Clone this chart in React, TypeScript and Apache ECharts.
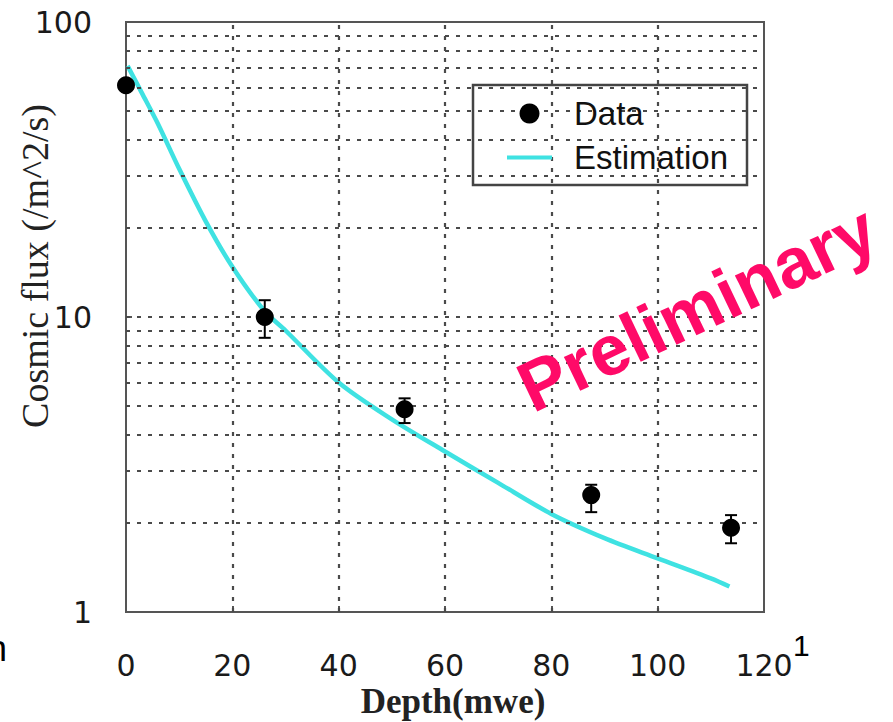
import React, { useEffect, useRef } from "react";
import * as echarts from "echarts";

// Measured data points (depth in mwe, cosmic flux)
const depthData = [0, 26.1, 52.4, 87.5, 113.8];
const fluxData = [61, 10.0, 4.87, 2.49, 1.93];
const fluxLow = [null, 8.5, 4.37, 2.18, 1.71];
const fluxHigh = [null, 11.4, 5.3, 2.7, 2.13];

// Estimation curve
const estDepth = [0.3, 3, 6, 10, 15, 20, 26, 30, 40, 50, 60, 70, 80, 90, 100, 110, 113.5];
const estFlux = [71, 57.4, 45.2, 31.8, 21.1, 14.8, 10.5, 9.0, 6.0, 4.5, 3.5, 2.74, 2.15, 1.78, 1.52, 1.3, 1.22];

// Grid lines
const yGridValues = [2, 3, 4, 5, 6, 7, 8, 9, 10, 20, 30, 40, 50, 60, 70, 80, 90];
const xGridValues = [20, 40, 60, 80, 100];

const xTicks = { min: 0, max: 120, interval: 20 };
const yTicks = { min: 1, max: 100 };

export default function App() {
  const ref = useRef<HTMLDivElement>(null);

  useEffect(() => {
    if (!ref.current) return;
    const chart = echarts.init(ref.current, null, { renderer: "svg" });

    const gridLineStyle = { type: [4, 7] as any, color: "#4a4a4a", width: 2.2 };
    const errData = depthData
      .map((d, i) => [d, fluxLow[i], fluxHigh[i]])
      .filter((r) => r[1] != null);

    const option: any = {
      animation: false,
      backgroundColor: "#ffffff",
      grid: {
        left: 126,
        right: 129,
        top: 22,
        bottom: 110,
        show: true,
        borderColor: "#555",
        borderWidth: 2,
        backgroundColor: "transparent",
      },
      xAxis: {
        type: "value",
        min: xTicks.min,
        max: xTicks.max,
        interval: xTicks.interval,
        axisLine: { show: true, lineStyle: { color: "#555", width: 2 } },
        axisTick: { show: true, inside: true, length: 6, lineStyle: { color: "#555", width: 2 } },
        splitLine: { show: false },
        axisLabel: {
          margin: 38,
          fontSize: 30,
          fontFamily: "DejaVu Sans",
          color: "#1a1a1a",
        },
      },
      yAxis: {
        type: "log",
        logBase: 10,
        min: yTicks.min,
        max: yTicks.max,
        axisLine: { show: true, lineStyle: { color: "#555", width: 2 } },
        axisTick: { show: true, inside: true, length: 6, lineStyle: { color: "#555", width: 2 } },
        splitLine: { show: false },
        axisLabel: {
          margin: 34,
          fontSize: 30,
          fontFamily: "DejaVu Sans",
          color: "#1a1a1a",
        },
      },
      legend: {
        orient: "vertical",
        left: 502,
        top: 92,
        itemWidth: 45,
        itemHeight: 20,
        itemGap: 11,
        data: [
          { name: "Data", icon: "circle" },
          { name: "Estimation", icon: "path://M0 0 H45 V4 H0 Z" },
        ],
        textStyle: {
          fontSize: 33,
          fontFamily: "Liberation Sans, Arial, sans-serif",
          color: "#111",
          padding: [0, 0, 0, 17],
        },
        z: 10,
      },
      graphic: [
        {
          type: "rect",
          z: 5,
          shape: { x: 473, y: 85, width: 274, height: 100 },
          style: { fill: "#ffffff", stroke: "#444", lineWidth: 2.5 },
        },
        {
          type: "text",
          x: 35,
          y: 266,
          rotation: Math.PI / 2,
          style: {
            text: "Cosmic flux (/m^2/s)",
            fontSize: 38,
            fontFamily: "Liberation Serif, serif",
            fill: "#222",
            align: "center",
            verticalAlign: "middle",
          },
        },
        {
          type: "text",
          x: 453,
          y: 701,
          style: {
            text: "Depth(mwe)",
            fontSize: 35,
            fontWeight: "bold",
            fontFamily: "Liberation Serif, serif",
            fill: "#222",
            align: "center",
            verticalAlign: "middle",
          },
        },
        {
          type: "text",
          x: 697,
          y: 308,
          z: 20,
          rotation: (25.5 * Math.PI) / 180,
          style: {
            text: "Preliminary",
            fontSize: 71,
            fontWeight: "bold",
            fontFamily: "Liberation Sans, Arial, sans-serif",
            fill: "#ff0a68",
            align: "center",
            verticalAlign: "middle",
          },
        },
        {
          type: "text",
          x: -13,
          y: 648,
          style: {
            text: "n",
            fontSize: 36,
            fontFamily: "Liberation Sans, sans-serif",
            fill: "#000",
            align: "left",
            verticalAlign: "middle",
          },
        },
        {
          type: "text",
          x: 793,
          y: 645,
          style: {
            text: "1",
            fontSize: 30,
            fontFamily: "Liberation Sans, sans-serif",
            fill: "#000",
            align: "left",
            verticalAlign: "middle",
          },
        },
      ],
      series: [
        {
          name: "gridlines",
          type: "line",
          data: [],
          z: 1,
          silent: true,
          markLine: {
            silent: true,
            symbol: ["none", "none"],
            label: { show: false },
            lineStyle: gridLineStyle,
            data: [
              ...yGridValues.map((v) => ({ yAxis: v })),
              ...xGridValues.map((v) => ({ xAxis: v })),
            ],
          },
        },
        {
          name: "Estimation",
          type: "line",
          z: 3,
          data: estDepth.map((d, i) => [d, estFlux[i]]),
          showSymbol: false,
          symbol: "none",
          smooth: 0.3,
          lineStyle: { color: "#3fe2e2", width: 4.5 },
          itemStyle: { color: "#3fe2e2" },
        },
        {
          name: "errors",
          type: "custom",
          z: 4,
          data: errData,
          encode: { x: 0, y: [1, 2] },
          renderItem: (params: any, api: any) => {
            const x = api.value(0);
            const lo = api.value(1);
            const hi = api.value(2);
            const p1 = api.coord([x, hi]);
            const p2 = api.coord([x, lo]);
            const w = 6;
            const st = { stroke: "#000", lineWidth: 2 };
            return {
              type: "group",
              children: [
                { type: "line", shape: { x1: p1[0], y1: p1[1], x2: p2[0], y2: p2[1] }, style: st },
                { type: "line", shape: { x1: p1[0] - w, y1: p1[1], x2: p1[0] + w, y2: p1[1] }, style: st },
                { type: "line", shape: { x1: p2[0] - w, y1: p2[1], x2: p2[0] + w, y2: p2[1] }, style: st },
              ],
            };
          },
        },
        {
          name: "Data",
          type: "scatter",
          z: 5,
          symbol: "circle",
          symbolSize: 18,
          data: depthData.map((d, i) => [d, fluxData[i]]),
          itemStyle: { color: "#000", opacity: 1 },
        },
      ],
    };

    chart.setOption(option);
    return () => chart.dispose();
  }, []);

  return (
    <div
      ref={ref}
      style={{ position: "fixed", left: 0, top: 0, width: 893, height: 722, background: "#fff" }}
    />
  );
}
